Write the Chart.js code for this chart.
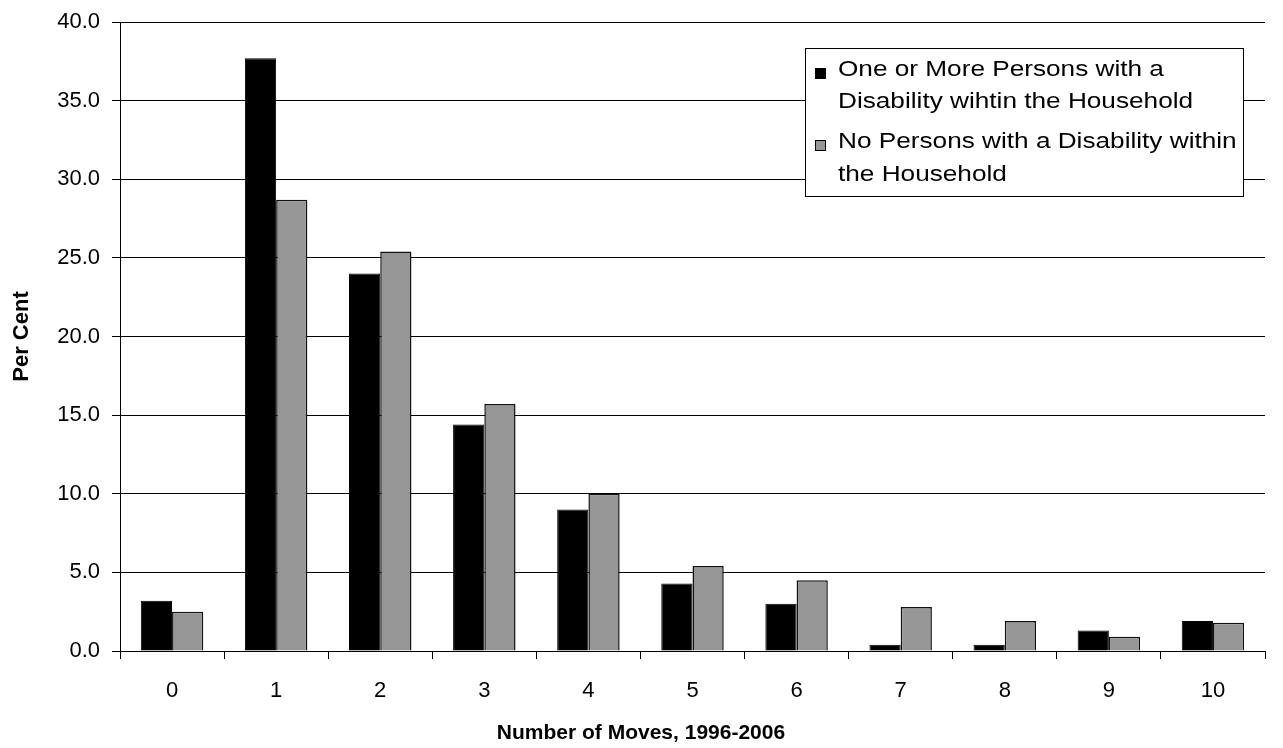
<!DOCTYPE html>
<html>
<head>
<meta charset="utf-8">
<script src="https://cdn.jsdelivr.net/npm/chart.js@4.4.0/dist/chart.umd.min.js"></script>
<style>
  html, body { margin: 0; padding: 0; background: #fff; }
  #wrap { width: 1283px; height: 748px; }
</style>
</head>
<body>
<div id="wrap"><canvas id="chart" width="1283" height="748"></canvas></div>
<script>
const moves = ["0", "1", "2", "3", "4", "5", "6", "7", "8", "9", "10"];
const withDisability = [3.2, 37.7, 24.0, 14.4, 9.0, 4.3, 3.0, 0.4, 0.4, 1.3, 1.9];
const noDisability = [2.5, 28.7, 25.4, 15.7, 10.0, 5.4, 4.5, 2.8, 1.9, 0.9, 1.8];
const legendLines = [
  ["One or More Persons with a", "Disability wihtin the Household"],
  ["No Persons with a Disability within", "the Household"]
];
const xTitle = "Number of Moves, 1996-2006";

const font = "'Liberation Sans', Arial, sans-serif";

// legend box drawn by hand so the labels can wrap like the original
const boxLegend = {
  id: "boxLegend",
  afterDraw(chart) {
    const ctx = chart.ctx;
    const x = 805, y = 48, w = 438, h = 148;
    ctx.save();
    ctx.fillStyle = "#fff";
    ctx.fillRect(x, y, w, h);
    ctx.strokeStyle = "#000";
    ctx.lineWidth = 1;
    ctx.strokeRect(x + 0.5, y + 0.5, w, h);
    ctx.font = "22px " + font;
    ctx.textBaseline = "middle";
    const rows = [70, 102, 142, 175];
    chart.data.datasets.forEach((ds, i) => {
      const ty = rows[i * 2];
      ctx.fillStyle = ds.backgroundColor;
      ctx.fillRect(815, ty - 2, 11, 11);
      ctx.strokeStyle = "#000";
      ctx.strokeRect(815.5, ty - 1.5, 10, 10);
      ctx.fillStyle = "#000";
      legendLines[i].forEach((line, j) => {
        ctx.save();
        ctx.translate(838, rows[i * 2 + j]);
        ctx.scale(1.19, 1);
        ctx.fillText(line, 0, 0);
        ctx.restore();
      });
    });
    ctx.restore();
  }
};

// x axis title sits centred on the whole picture, not on the plot
const bottomTitle = {
  id: "bottomTitle",
  afterDraw(chart) {
    const ctx = chart.ctx;
    ctx.save();
    ctx.font = "bold 21px " + font;
    ctx.fillStyle = "#000";
    ctx.textAlign = "center";
    ctx.textBaseline = "middle";
    ctx.fillText(xTitle, 641, 733);
    ctx.restore();
  }
};

new Chart(document.getElementById("chart").getContext("2d"), {
  type: "bar",
  data: {
    labels: moves,
    datasets: [
      {
        label: legendLines[0].join(" "),
        data: withDisability,
        backgroundColor: "#000000",
        borderColor: "#000000",
        borderWidth: 1
      },
      {
        label: legendLines[1].join(" "),
        data: noDisability,
        backgroundColor: "#969696",
        borderColor: "#111111",
        borderWidth: 1.5
      }
    ]
  },
  options: {
    responsive: false,
    animation: false,
    layout: { padding: { top: 22, right: 18, left: 0, bottom: 0 } },
    datasets: { bar: { categoryPercentage: 0.6, barPercentage: 1.0 } },
    plugins: {
      legend: { display: false },
      tooltip: { enabled: false }
    },
    scales: {
      x: {
        offset: true,
        grid: { offset: true, drawOnChartArea: false, drawTicks: true, tickLength: 8, color: "#000" },
        border: { color: "#000", width: 1 },
        ticks: { color: "#000", font: { family: font, size: 22 }, padding: 19 },
        afterFit(s) { s.height = 97; }
      },
      y: {
        min: 0,
        max: 40,
        ticks: {
          stepSize: 5,
          color: "#000",
          font: { family: font, size: 22, lineHeight: 0.9 },
          padding: 12,
          callback: v => v.toFixed(1)
        },
        grid: { color: "#000", lineWidth: 1, tickLength: 8 },
        border: { color: "#000", width: 1 },
        title: {
          display: true,
          text: "Per Cent",
          color: "#000",
          font: { family: font, size: 22, weight: "bold" },
          padding: { top: 9, bottom: 0 }
        },
        afterFit(s) { s.width = 120; }
      }
    }
  },
  plugins: [boxLegend, bottomTitle]
});
</script>
</body>
</html>
